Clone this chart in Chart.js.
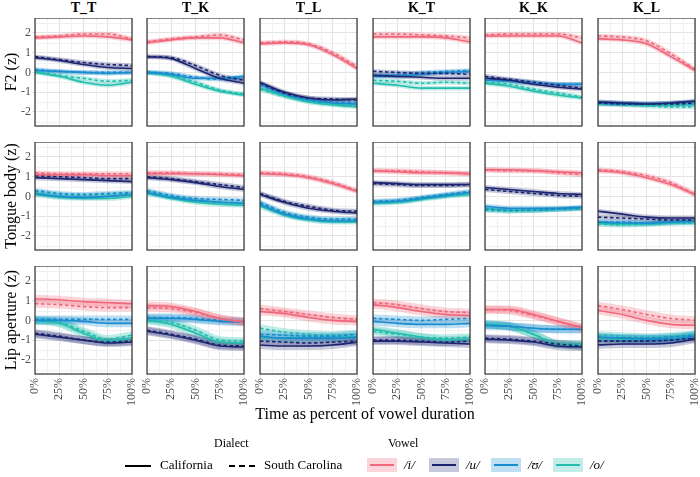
<!DOCTYPE html>
<html>
<head>
<meta charset="utf-8">
<script src="https://cdn.jsdelivr.net/npm/chart.js@4"></script>
<style>
  body { margin: 0; background: #fff; font-family: "Liberation Serif", serif; }
  #wrap { position: relative; width: 700px; height: 477px; }
  .pc { position: absolute; }
  .txt { position: absolute; white-space: nowrap; color: #000; }
  .facet { font-weight: bold; font-size: 14px; transform: translateX(-50%); }
  .ylab { font-size: 16px; transform: translate(-50%, -50%) rotate(-90deg); }
  .key { position: absolute; width: 28px; height: 14px; }
  .key i { position: absolute; left: 3px; right: 3px; top: 6px; height: 0; border-top: 2px solid; }
</style>
</head>
<body>
<div id="wrap"></div>
<script>
// ==========================
// DATA
// ==========================
const contexts = ["T_T", "T_K", "T_L", "K_T", "K_K", "K_L"];
const measures = ["F2 (z)", "Tongue body (z)", "Lip aperture (z)"];
const vowels = ["/i/", "/u/", "/ʊ/", "/o/"];
const times = [0, 25, 50, 75, 100];
const xTickLabels = ["0%", "25%", "50%", "75%", "100%"];
const yTickLabels = [-2, -1, 0, 1, 2];

// each panel: [ /i/, /u/, /ʊ/, /o/ ] at 0,25,50,75,100 %
const F2_CA = [
  [[1.75,1.8,1.85,1.8,1.65],[0.75,0.6,0.4,0.25,0.2],[0.1,0.05,0,-0.05,0],[0,-0.2,-0.5,-0.65,-0.5]],
  [[1.5,1.65,1.75,1.75,1.5],[0.8,0.7,0.2,-0.3,-0.55],[0,-0.1,-0.3,-0.3,-0.2],[0,-0.2,-0.6,-0.95,-1.15]],
  [[1.45,1.5,1.4,0.9,0.2],[-0.5,-1.0,-1.3,-1.4,-1.35],[-0.6,-1.1,-1.4,-1.55,-1.6],[-0.8,-1.2,-1.5,-1.65,-1.75]],
  [[1.8,1.8,1.8,1.75,1.55],[-0.15,-0.2,-0.25,-0.3,-0.3],[-0.2,-0.2,-0.1,0,0.05],[-0.55,-0.65,-0.8,-0.8,-0.8]],
  [[1.85,1.85,1.85,1.85,1.5],[-0.3,-0.4,-0.6,-0.75,-0.85],[-0.4,-0.45,-0.55,-0.6,-0.6],[-0.55,-0.7,-0.95,-1.15,-1.3]],
  [[1.7,1.65,1.45,0.8,0.1],[-1.5,-1.55,-1.6,-1.55,-1.45],[-1.55,-1.6,-1.6,-1.55,-1.5],[-1.6,-1.6,-1.65,-1.65,-1.6]]
];
const F2_SC = [
  [[1.8,1.85,1.95,1.95,1.7],[0.8,0.65,0.5,0.4,0.35],[0.15,0.05,0,0,0],[0.05,-0.15,-0.3,-0.45,-0.4]],
  [[1.55,1.7,1.8,1.9,1.65],[0.8,0.75,0.35,-0.15,-0.4],[0,-0.05,-0.25,-0.35,-0.3],[0,-0.15,-0.5,-0.9,-1.1]],
  [[1.5,1.55,1.45,1.0,0.3],[-0.55,-1.05,-1.3,-1.35,-1.4],[-0.65,-1.1,-1.4,-1.5,-1.55],[-0.85,-1.2,-1.45,-1.6,-1.7]],
  [[1.95,1.95,1.9,1.85,1.75],[0.05,0,-0.05,-0.05,-0.1],[-0.15,-0.1,0,0.05,0.1],[-0.4,-0.45,-0.55,-0.5,-0.55]],
  [[1.9,1.95,1.95,1.95,1.75],[-0.2,-0.35,-0.5,-0.65,-0.8],[-0.3,-0.4,-0.5,-0.6,-0.6],[-0.5,-0.6,-0.85,-1.05,-1.25]],
  [[1.85,1.8,1.6,0.95,0.15],[-1.55,-1.6,-1.6,-1.6,-1.55],[-1.5,-1.55,-1.6,-1.6,-1.6],[-1.6,-1.65,-1.7,-1.75,-1.75]]
];
const TB_CA = [
  [[1.1,1.1,1.1,1.05,1.05],[0.95,0.9,0.85,0.8,0.75],[0.15,0,-0.05,0,0.1],[0.1,-0.05,-0.1,-0.1,0]],
  [[1.15,1.15,1.15,1.1,1.05],[0.95,0.85,0.7,0.5,0.35],[0.2,-0.05,-0.2,-0.3,-0.35],[0.15,-0.1,-0.3,-0.4,-0.45]],
  [[1.15,1.1,0.95,0.65,0.25],[0.1,-0.3,-0.6,-0.75,-0.85],[-0.4,-0.9,-1.15,-1.25,-1.25],[-0.5,-0.95,-1.2,-1.3,-1.3]],
  [[1.3,1.25,1.2,1.2,1.15],[0.7,0.65,0.6,0.6,0.6],[-0.3,-0.25,-0.1,0.05,0.2],[-0.35,-0.3,-0.15,0,0.1]],
  [[1.35,1.35,1.3,1.25,1.2],[0.45,0.35,0.25,0.15,0.1],[-0.5,-0.6,-0.6,-0.6,-0.55],[-0.6,-0.7,-0.7,-0.65,-0.6]],
  [[1.3,1.2,0.95,0.6,0.1],[-0.75,-0.9,-1.05,-1.1,-1.1],[-1.3,-1.35,-1.35,-1.3,-1.25],[-1.35,-1.4,-1.4,-1.35,-1.3]]
];
const TB_SC = [
  [[1.2,1.15,1.15,1.15,1.15],[1.05,1.0,0.95,0.9,0.9],[0.3,0.15,0.1,0.15,0.2],[0.25,0.1,0.05,0.1,0.15]],
  [[1.2,1.2,1.15,1.15,1.1],[1.0,0.9,0.75,0.6,0.45],[0.3,0.05,-0.1,-0.15,-0.2],[0.25,0,-0.2,-0.3,-0.35]],
  [[1.2,1.15,1.0,0.7,0.3],[0.15,-0.25,-0.5,-0.7,-0.75],[-0.3,-0.8,-1.05,-1.15,-1.15],[-0.35,-0.85,-1.1,-1.2,-1.2]],
  [[1.3,1.3,1.25,1.2,1.15],[0.65,0.6,0.55,0.55,0.6],[-0.25,-0.2,-0.05,0.1,0.25],[-0.3,-0.25,-0.1,0.05,0.15]],
  [[1.35,1.3,1.3,1.2,1.1],[0.35,0.25,0.15,0.05,0],[-0.65,-0.7,-0.7,-0.65,-0.6],[-0.7,-0.75,-0.7,-0.65,-0.6]],
  [[1.35,1.25,1.05,0.7,0.1],[-1.05,-1.1,-1.15,-1.2,-1.2],[-1.3,-1.3,-1.35,-1.3,-1.3],[-1.4,-1.45,-1.4,-1.35,-1.35]]
];
const LA_CA = [
  [[1.1,1.05,0.95,0.9,0.85],[-0.7,-0.85,-1.0,-1.15,-1.1],[0,0,-0.05,-0.15,-0.15],[0,-0.15,-0.65,-1.05,-0.9]],
  [[0.75,0.7,0.45,0.1,-0.1],[-0.55,-0.75,-1.0,-1.3,-1.35],[0.1,0.1,0.05,-0.05,-0.1],[0,-0.2,-0.65,-1.1,-1.15]],
  [[0.45,0.35,0.15,0,-0.05],[-1.25,-1.3,-1.3,-1.25,-1.1],[-0.8,-0.9,-0.9,-0.9,-0.85],[-0.85,-0.9,-0.9,-0.85,-0.85]],
  [[0.8,0.65,0.45,0.3,0.25],[-1.05,-1.05,-1.1,-1.15,-1.2],[-0.05,-0.15,-0.2,-0.2,-0.15],[-0.45,-0.65,-0.85,-1.0,-0.95]],
  [[0.55,0.55,0.3,-0.05,-0.35],[-0.95,-1.0,-1.1,-1.3,-1.35],[-0.25,-0.3,-0.4,-0.45,-0.45],[-0.2,-0.3,-0.7,-1.2,-1.25]],
  [[0.5,0.3,0,-0.2,-0.25],[-1.25,-1.2,-1.2,-1.15,-0.95],[-0.85,-0.9,-0.95,-0.95,-0.8],[-0.9,-0.95,-0.95,-0.9,-0.75]]
];
const LA_SC = [
  [[0.85,0.8,0.7,0.65,0.65],[-0.65,-0.8,-1.0,-1.1,-1.05],[0.05,0.05,0.05,0.05,0.05],[0,-0.1,-0.55,-0.95,-0.75]],
  [[0.65,0.6,0.4,0.1,-0.05],[-0.5,-0.7,-0.95,-1.25,-1.3],[0.15,0.15,0.1,0,-0.05],[0.05,-0.1,-0.5,-1.0,-1.05]],
  [[0.6,0.45,0.3,0.15,0.05],[-1.05,-1.1,-1.15,-1.1,-1.05],[-0.7,-0.75,-0.8,-0.8,-0.7],[-0.4,-0.6,-0.7,-0.75,-0.7]],
  [[0.9,0.8,0.6,0.45,0.4],[-1.0,-1.0,-1.05,-1.1,-1.05],[0.1,0.05,0,0.05,0.1],[-0.55,-0.7,-0.85,-0.9,-0.85]],
  [[0.55,0.5,0.25,-0.05,-0.4],[-0.9,-0.95,-1.05,-1.2,-1.3],[-0.25,-0.3,-0.4,-0.45,-0.45],[-0.2,-0.3,-0.7,-1.2,-1.2]],
  [[0.75,0.55,0.3,0.1,0],[-1.05,-1.05,-1.05,-1.0,-0.9],[-0.85,-0.9,-0.9,-0.85,-0.75],[-0.75,-0.8,-0.85,-0.8,-0.7]]
];
const rowsCA = [F2_CA, TB_CA, LA_CA];
const rowsSC = [F2_SC, TB_SC, LA_SC];

// ==========================
// STYLE / LAYOUT
// ==========================
const lineColors = ["#f0677b", "#1c246e", "#1a8bcf", "#21bdad"];
const bandColors = ["rgba(240,103,123,0.28)", "rgba(28,36,110,0.25)", "rgba(26,139,207,0.28)", "rgba(33,189,173,0.28)"];
const bandWidth = [9, 10, 16];
const panelX = [35, 147, 260, 373, 485, 598];
const panelY = [18, 142, 266];
const PW = 97, PH = 108, LM = 16, RM = 6, BM = 36;
const font = "Liberation Serif";

const wrap = document.getElementById("wrap");
function addText(html, cls, left, top, style) {
  const d = document.createElement("div");
  d.className = "txt " + cls;
  d.innerHTML = html;
  d.style.left = left + "px";
  d.style.top = top + "px";
  if (style) Object.assign(d.style, style);
  wrap.appendChild(d);
  return d;
}

// minor grid lines (half steps) + panel frame
const frame = {
  id: "frame",
  beforeDatasetsDraw(chart) {
    const a = chart.chartArea, c = chart.ctx, xs = chart.scales.x, ys = chart.scales.y;
    c.save();
    c.strokeStyle = "#f0f0f0";
    c.lineWidth = 1;
    c.beginPath();
    [12.5, 37.5, 62.5, 87.5].forEach(v => { const px = Math.round(xs.getPixelForValue(v)) + 0.5; c.moveTo(px, a.top); c.lineTo(px, a.bottom); });
    [-2.5, -1.5, -0.5, 0.5, 1.5, 2.5].forEach(v => { const py = Math.round(ys.getPixelForValue(v)) + 0.5; c.moveTo(a.left, py); c.lineTo(a.right, py); });
    c.stroke();
    c.restore();
  },
  afterDraw(chart) {
    const a = chart.chartArea, c = chart.ctx;
    c.save();
    c.strokeStyle = "#333";
    c.lineWidth = 1.2;
    c.strokeRect(a.left, a.top, a.right - a.left, a.bottom - a.top);
    c.restore();
  }
};

function makePanel(r, p) {
  const cv = document.createElement("canvas");
  const holder = document.createElement("div");
  holder.className = "pc";
  holder.style.left = (panelX[p] - LM) + "px";
  holder.style.top = panelY[r] + "px";
  holder.style.width = (PW + LM + RM) + "px";
  holder.style.height = (PH + BM) + "px";
  holder.appendChild(cv);
  wrap.appendChild(holder);

  const datasets = [];
  vowels.forEach((v, k) => {
    [rowsCA[r][p][k], rowsSC[r][p][k]].forEach((vals, d) => {
      const pts = times.map((t, j) => ({ x: t, y: vals[j] }));
      datasets.push({ data: pts, borderColor: bandColors[k], borderWidth: bandWidth[r] / 2, order: 10,
        pointRadius: 0, cubicInterpolationMode: "monotone", borderCapStyle: "butt" });
      datasets.push({ data: pts, borderColor: lineColors[k], borderWidth: 1.6, order: 1,
        borderDash: d ? [3.5, 2.5] : [], pointRadius: 0, cubicInterpolationMode: "monotone" });
    });
  });

  new Chart(cv, {
    type: "line",
    data: { datasets },
    plugins: [frame],
    options: {
      responsive: true, maintainAspectRatio: false, animation: false,
      layout: { padding: { left: 0, top: 0, bottom: 0, right: RM } },
      plugins: { legend: { display: false }, tooltip: { enabled: false } },
      scales: {
        x: {
          type: "linear", min: 0, max: 100,
          afterBuildTicks: s => { s.ticks = times.map(v => ({ value: v })); },
          afterFit: s => { s.height = BM; s.paddingLeft = 0; s.paddingRight = 0; },
          border: { display: false },
          grid: { color: "#e3e3e3", lineWidth: 1, tickLength: 3, drawTicks: r === 2 },
          ticks: {
            display: r === 2, autoSkip: false, minRotation: 90, maxRotation: 90, padding: 1,
            color: "#4d4d4d", font: { family: font, size: 12 },
            callback: v => xTickLabels[times.indexOf(v)]
          }
        },
        y: {
          min: -2.72, max: 2.76,
          afterBuildTicks: s => { s.ticks = yTickLabels.map(v => ({ value: v })); },
          afterFit: s => { s.width = LM; s.paddingTop = 0; s.paddingBottom = 0; },
          border: { display: false },
          grid: { color: "#e3e3e3", lineWidth: 1, tickLength: 3, drawTicks: p === 0 },
          ticks: {
            display: p === 0, autoSkip: false, padding: 1,
            color: "#4d4d4d", font: { family: font, size: 12 },
            callback: v => String(v)
          }
        }
      }
    }
  });
}

for (let r = 0; r < 3; r++) for (let p = 0; p < 6; p++) makePanel(r, p);

// facet labels, axis titles
contexts.forEach((c, p) => addText(c, "facet", panelX[p] + PW / 2, 0));
measures.forEach((m, r) => addText(m, "ylab", 11, panelY[r] + PH / 2));
addText("Time as percent of vowel duration", "", 365, 405, { fontSize: "16px", transform: "translateX(-50%)" });

// legend
addText("Dialect", "", 214, 436, { fontSize: "12px" });
addText("Vowel", "", 388, 436, { fontSize: "12px" });
function lineKey(x, dashed) {
  const d = document.createElement("div");
  d.style.cssText = `position:absolute;left:${x}px;top:465px;width:26px;border-top:2px ${dashed ? "dashed" : "solid"} #000;`;
  wrap.appendChild(d);
}
lineKey(125, false); addText("California", "", 160, 457, { fontSize: "13px" });
lineKey(229, true); addText("South Carolina", "", 264, 457, { fontSize: "13px" });
const keyX = [367, 429, 491, 553];
vowels.forEach((v, k) => {
  const d = document.createElement("div");
  d.className = "key";
  d.style.left = keyX[k] + "px"; d.style.top = "458px"; d.style.width = "30px";
  d.style.background = bandColors[k];
  d.innerHTML = `<i style="border-color:${lineColors[k]}"></i>`;
  wrap.appendChild(d);
  addText(v, "", keyX[k] + 37, 457, { fontSize: "13px", fontStyle: "italic" });
});
</script>
</body>
</html>
